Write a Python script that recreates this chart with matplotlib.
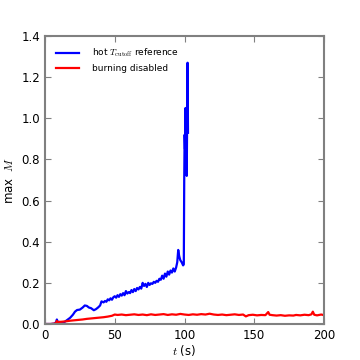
import matplotlib

matplotlib.use("Agg")
import matplotlib.pyplot as plt

# hot T_cutoff reference run (stops after the runaway near t = 100 s)
hot_t = [0, 4, 7, 8, 8.5, 9, 10, 12, 14, 16, 18, 20, 21.5, 23, 25, 27, 28.5, 30,
         31.5, 33, 35, 36.5, 38, 39.5, 40.5, 42, 43, 44, 45, 46, 47, 48, 49, 50,
         51, 52, 53, 54, 55, 56, 57, 58, 59, 60, 61, 62, 63, 64, 65, 66, 67, 68,
         69, 70, 71, 72, 73, 74, 75, 76, 77, 78, 79, 80, 81, 82, 83, 84, 85, 86,
         87, 88, 89, 90, 91, 92, 93, 94, 94.8, 95.5, 96.2, 97, 98, 99, 99.5,
         99.8, 100.1, 100.4, 100.7, 101.0, 101.3, 101.6, 101.9, 102.2, 102.5]
hot_max = [0.0, 0.0, 0.002, 0.01, 0.022, 0.012, 0.01, 0.008, 0.01, 0.02, 0.03,
           0.045, 0.06, 0.068, 0.07, 0.08, 0.09, 0.088, 0.08, 0.077, 0.067, 0.072,
           0.08, 0.09, 0.11, 0.105, 0.112, 0.108, 0.12, 0.115, 0.125, 0.118, 0.13,
           0.135, 0.128, 0.14, 0.132, 0.145, 0.138, 0.15, 0.14, 0.16, 0.148, 0.155,
           0.15, 0.165, 0.155, 0.17, 0.16, 0.175, 0.168, 0.18, 0.172, 0.2, 0.185,
           0.195, 0.18, 0.2, 0.19, 0.198, 0.195, 0.205, 0.2, 0.21, 0.205, 0.22,
           0.215, 0.235, 0.22, 0.245, 0.23, 0.255, 0.24, 0.26, 0.25, 0.27, 0.255,
           0.275, 0.3, 0.36, 0.33, 0.31, 0.3, 0.285, 0.29, 0.7, 0.92, 0.85, 1.05,
           0.9, 1.02, 0.72, 1.0, 1.27, 0.93]

# burning disabled run
cold_t = [0, 4, 7, 8, 8.5, 9, 10, 12, 15, 18, 21, 24, 27, 30, 33, 36, 39, 42, 45,
          48, 50, 52, 55, 58, 61, 64, 67, 70, 73, 76, 79, 82, 85, 88, 91, 94, 97,
          100, 103, 106, 109, 112, 115, 118, 121, 124, 127, 130, 133, 136, 139,
          142, 144, 146, 149, 152, 155, 158, 160, 161, 163, 166, 169, 172, 175,
          178, 180, 183, 186, 189, 191, 192, 193, 195, 198, 200]
cold_max = [0.0, 0.0, 0.002, 0.006, 0.015, 0.008, 0.01, 0.011, 0.013, 0.016,
            0.018, 0.02, 0.022, 0.025, 0.027, 0.029, 0.031, 0.033, 0.036, 0.04,
            0.046, 0.044, 0.046, 0.043, 0.045, 0.047, 0.044, 0.046, 0.043, 0.047,
            0.044, 0.046, 0.048, 0.044, 0.047, 0.045, 0.049, 0.046, 0.044, 0.047,
            0.045, 0.048, 0.046, 0.05, 0.046, 0.044, 0.046, 0.043, 0.045, 0.047,
            0.044, 0.046, 0.037, 0.043, 0.045, 0.042, 0.044, 0.043, 0.058, 0.045,
            0.043, 0.041, 0.043, 0.04, 0.042, 0.041, 0.044, 0.042, 0.045, 0.043,
            0.047, 0.06, 0.045, 0.042, 0.046, 0.043]

plt.rcParams.update({
    "font.size": 8.5,
    "axes.edgecolor": "#808080",
    "axes.linewidth": 1.5,
    "xtick.direction": "in",
    "ytick.direction": "in",
    "xtick.top": True,
    "ytick.right": True,
    "xtick.major.size": 4,
    "ytick.major.size": 4,
    "xtick.color": "#808080",
    "ytick.color": "#808080",
    "xtick.labelcolor": "black",
    "ytick.labelcolor": "black",
    "mathtext.fontset": "cm",
})

fig = plt.figure(figsize=(3.6, 3.6), dpi=100)
ax = fig.add_axes([0.125, 0.1, 0.775, 0.8])

ax.plot(hot_t, hot_max, color="#0000ff", lw=1.6,
        label=r"hot $T_\mathrm{cutoff}$ reference")
ax.plot(cold_t, cold_max, color="#ff0000", lw=1.6, label="burning disabled")

ax.set_xlim(0, 200)
ax.set_ylim(0, 1.4)
ax.set_xticks([0, 50, 100, 150, 200])
ax.set_yticks([0.0, 0.2, 0.4, 0.6, 0.8, 1.0, 1.2, 1.4])
ax.set_yticklabels([f"{v:.1f}" for v in ax.get_yticks()])
ax.set_xlabel(r"$t$ (s)", labelpad=1)
ax.set_ylabel(r"max $\ M$")

ax.legend(loc="upper left", frameon=False, fontsize=6.5, handlelength=2.6,
          handletextpad=1.4, borderaxespad=0.8)

fig.savefig("out.png", dpi=100)
